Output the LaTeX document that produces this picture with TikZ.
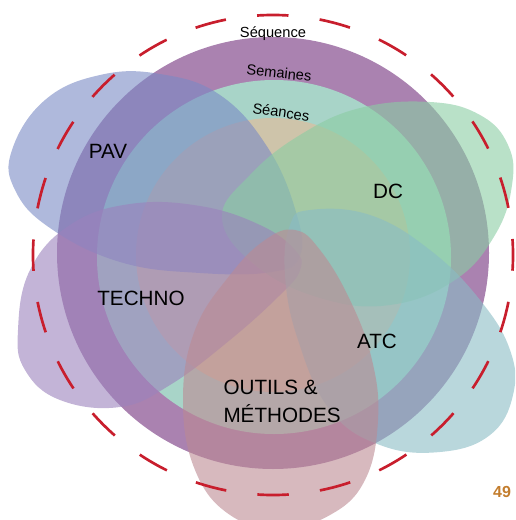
\documentclass[tikz,border=0pt]{standalone}
\usepackage{fontspec}
\setmainfont{Liberation Sans}

\tikzset{every picture/.style={line width=0.75pt}}
\tikzset{
  blob/.style={draw opacity=0, fill opacity=0.6},
  ringlbl/.style={inner sep=0.75pt, font=\fontsize{11}{13}\selectfont},
  setlbl/.style={inner sep=0.75pt, font=\fontsize{15.5}{21}\selectfont},
}

\begin{document}
\begin{tikzpicture}[x=0.75pt,y=0.75pt,yscale=-1,xscale=1]
\useasboundingbox (0,0) rectangle (515,520);
\clip (0,0) rectangle (515,520);

%Shape: Circle [id:sequence]
\draw [draw opacity=0][fill={rgb, 255:red, 170; green, 130; blue, 176 }  ,fill opacity=1 ] (273,253) circle (216) ;
%Shape: Circle [id:semaines]
\draw [draw opacity=0][fill={rgb, 255:red, 168; green, 212; blue, 200 }  ,fill opacity=1 ] (274,257) circle (177) ;
%Shape: Circle [id:seances]
\draw [draw opacity=0][fill={rgb, 255:red, 206; green, 196; blue, 170 }  ,fill opacity=1 ] (273,255) circle (137) ;

%Shape: Blob [id:pav]
\draw [blob][fill={rgb, 255:red, 122; green, 138; blue, 197 }] plot [smooth cycle, tension=0.7] coordinates {(12,150) (45,100) (100,75) (160,74) (220,95) (268,148) (296,212) (300,256) (272,272) (200,273) (120,262) (50,228) (15,190)} ;
%Shape: Blob [id:dc]
\draw [blob][fill={rgb, 255:red, 138; green, 205; blue, 163 }] plot [smooth cycle, tension=0.7] coordinates {(222,218) (250,175) (300,135) (360,108) (430,102) (480,115) (508,145) (512,185) (495,235) (455,280) (390,305) (320,298) (255,265)} ;
%Shape: Blob [id:techno]
\draw [blob][fill={rgb, 255:red, 155; green, 130; blue, 188 }] plot [smooth cycle, tension=0.7] coordinates {(18,330) (30,270) (70,225) (130,204) (200,206) (260,225) (295,250) (300,270) (280,295) (230,340) (170,385) (120,407) (60,400) (25,370)} ;
%Shape: Blob [id:atc]
\draw [blob][fill={rgb, 255:red, 138; green, 188; blue, 197 }] plot [smooth cycle, tension=0.7] coordinates {(290,225) (310,210) (370,215) (430,250) (480,300) (510,350) (513,395) (490,435) (440,452) (380,445) (330,410) (298,340) (285,275)} ;
%Shape: Blob [id:outils]
\draw [blob][fill={rgb, 255:red, 188; green, 138; blue, 147 }] plot [smooth cycle, tension=0.7] coordinates {(295,230) (320,250) (350,300) (372,360) (378,420) (365,480) (330,515) (280,528) (230,515) (195,470) (183,400) (195,330) (230,275) (265,240)} ;

%Shape: Circle [id:frame]
\draw [color={rgb, 255:red, 200; green, 30; blue, 45 }  ,draw opacity=1 ][line width=2] [dash pattern={on 23.56pt off 23.56pt}, dash phase=11.78pt] (273,255) circle (240) ;

% Text Node
\draw (273,34) node (sequence) [ringlbl] {Séquence};
% Text Node
\draw (279,73) node (semaines) [ringlbl, rotate=-6] {Semaines};
% Text Node
\draw (281,112) node (seances) [ringlbl, rotate=-8] {Séances};
% Text Node
\draw (108,151) node (pav) [setlbl] {PAV};
% Text Node
\draw (388,191) node (dc) [setlbl] {DC};
% Text Node
\draw (141,298) node (techno) [setlbl] {TECHNO};
% Text Node
\draw (377,341) node (atc) [setlbl] {ATC};
% Text Node
\draw (222,401) node (outils) [setlbl, anchor=west, align=left] {OUTILS \&\\MÉTHODES};
% Text Node
\draw (502,492) node (page) [inner sep=0.75pt, font=\fontsize{12}{14}\selectfont\bfseries, color={rgb, 255:red, 195; green, 125; blue, 45 }] {49};

\end{tikzpicture}
\end{document}
